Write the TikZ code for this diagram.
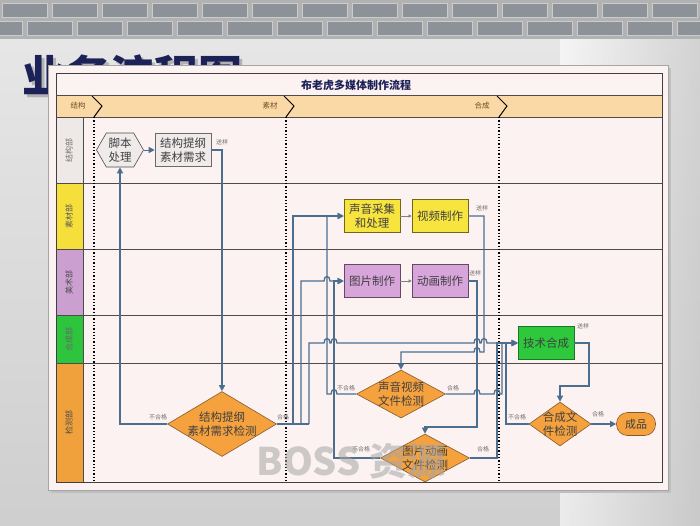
\documentclass[tikz,border=0pt]{standalone}
\usepackage{fontspec}
\newfontfamily\cjk{Noto Sans CJK SC}
\usetikzlibrary{arrows.meta,positioning,shapes.geometric,shapes.symbols}
\definecolor{lineblue}{HTML}{4D6F8F}
\definecolor{navy}{HTML}{1C2158}
\definecolor{panelfill}{HTML}{FCF2F1}
\definecolor{phasefill}{HTML}{FAD9A6}
\definecolor{hdrgray}{HTML}{EEE8E6}
\definecolor{laneyel}{HTML}{F6DF3A}
\definecolor{lanepur}{HTML}{CC9FD1}
\definecolor{lanegrn}{HTML}{2EC53E}
\definecolor{laneora}{HTML}{F1A13B}
\definecolor{boxgray}{HTML}{EFEBEA}
\definecolor{boxyel}{HTML}{F7E43F}
\definecolor{boxpur}{HTML}{D7A5DA}
\definecolor{boxgrn}{HTML}{2DC83B}
\definecolor{dia}{HTML}{F4A13E}
\definecolor{brick}{HTML}{8C9297}
\definecolor{mortar}{HTML}{C9CDD0}

\begin{document}
\begin{tikzpicture}[x=1pt,y=-1pt,font=\cjk,
  procbox/.style={draw=#1!45!black,fill=#1,line width=0.6pt,minimum width=56,minimum height=33,
    inner sep=1,align=center,text=black!75,font=\cjk\fontsize{11.5}{14}\selectfont},
  check/.style={diamond,draw=brown!70!black,fill=dia,line width=0.6pt,inner sep=-10,align=center,
    text=black!75,font=\cjk\fontsize{11.5}{14}\selectfont},
  flow/.style={draw=lineblue,line width=1.3pt,-{Triangle[length=6pt,width=6pt]}},
  link/.style={draw=lineblue,line width=1.3pt},
  thinflow/.style={draw=gray,line width=0.5pt,-{Triangle[length=3pt,width=3pt]}},
  note/.style={font=\cjk\fontsize{6}{7}\selectfont,text=black!55,inner sep=0},
  lanetext/.style={rotate=90,font=\cjk\fontsize{8}{9}\selectfont,inner sep=0},
  phasetext/.style={font=\cjk\fontsize{7.5}{9}\selectfont,text=brown!60!black,inner sep=0},
  hopr/.style 2 args={insert path={-- ({#1-3},#2) .. controls ({#1-3},{#2-6}) and ({#1+3},{#2-6}) .. ({#1+3},#2)}},
  hopl/.style 2 args={insert path={-- ({#1+3},#2) .. controls ({#1+3},{#2-6}) and ({#1-3},{#2-6}) .. ({#1-3},#2)}}]
\useasboundingbox (0,0) rectangle (700,525);
% slide background
\shade[top color=gray!18,bottom color=gray!38] (0,0) rectangle (700,525);
\shade[left color=white!0,right color=gray!45,opacity=0.6] (560,38) rectangle (700,525);
\fill[gray!60] (0,0) rectangle (700,39);
\foreach \x in {0,50,...,700}
  \draw[mortar,fill=brick] (\x+2,3) rectangle (\x+47,17);
\foreach \x in {-25,25,...,700}
  \draw[mortar,fill=brick] (\x+2,21) rectangle (\x+47,35);
\node[anchor=base west,text=gray!60,font=\cjk\bfseries\fontsize{44}{44}\selectfont,inner sep=0] (slidetitleshadow) at (25,95) {业务流程图};
\node[anchor=base west,text=navy,font=\cjk\bfseries\fontsize{44}{44}\selectfont,inner sep=0] (slidetitle) at (22,92) {业务流程图};
% sheet
\fill[gray!50] (51,68) rectangle (671,493);
\filldraw[draw=gray!70,fill=panelfill] (48,65) rectangle (668,490);
\fill[phasefill] (56,95) rectangle (662,117);
\foreach \ya/\yb/\col in {117/183/hdrgray,183/249/laneyel,249/315/lanepur,315/363/lanegrn,363/482/laneora}
  \fill[\col] (56,\ya) rectangle (83,\yb);
\draw[black!75,line width=0.8pt] (56,73) rectangle (662,482);
\foreach \yy in {95,117,183,249,315,363}
  \draw[black!70,line width=0.8pt] (56,\yy) -- (662,\yy);
\draw[black!70,line width=0.8pt] (83,117) -- (83,482);
\node[text=navy,font=\cjk\bfseries\fontsize{11}{12}\selectfont] (charttitle) at (356,85) {布老虎多媒体制作流程};
% lanes
\node[lanetext,text=black!55] (lanea) at (69,150) {结构部};
\node[lanetext,text=black!65] (laneb) at (69,216) {素材部};
\node[lanetext,text=black!70] (lanec) at (69,282) {美术部};
\node[lanetext,text=black!60] (laned) at (69,339) {合成部};
\node[lanetext,text=black!70] (lanee) at (69,422) {检测部};
% phases
\node[phasetext] (phasea) at (78,106) {结构};
\node[phasetext] (phaseb) at (270,106) {素材};
\node[phasetext] (phasec) at (482,106) {合成};
\foreach \px in {92,284,497} {
  \draw[black,line width=1pt] (\px,96) -- (\px+10,106) -- (\px+2,117);
  \draw[black,dotted,line width=1.3pt] (\px+2,117) -- (\px+2,482);
}
% steps
\node[signal,signal to=west and east,signal pointer angle=120,draw=gray!60!black,fill=boxgray,
  line width=0.6pt,minimum width=47,minimum height=34,inner sep=1,align=center,text=black!75,
  font=\cjk\fontsize{11.5}{14}\selectfont] (jb) at (120,150) {脚本\\处理};
\node[procbox=boxgray] (jg) at (183,150) {结构提纲\\素材需求};
\node[procbox=boxyel] (sy) at (372,216) {声音采集\\和处理};
\node[procbox=boxyel] (sp) at (440,216) {视频制作};
\node[procbox=boxpur] (tp) at (372,281) {图片制作};
\node[procbox=boxpur] (dh) at (440,281) {动画制作};
\node[procbox=boxgrn,draw=boxgrn!60!black] (js) at (546,343) {技术合成};
\node[check,minimum width=109,minimum height=65] (chk1) at (222,424) {结构提纲\\素材需求检测};
\node[check,minimum width=89,minimum height=48] (chk2) at (401,394) {声音视频\\文件检测};
\node[check,minimum width=89,minimum height=48] (chk3) at (425,458) {图片动画\\文件检测};
\node[check,minimum width=62,minimum height=44] (chk4) at (560,424) {合成文\\件检测};
\node[draw=brown!70!black,fill=dia,line width=0.6pt,rounded corners=11,minimum width=39,
  minimum height=23,inner sep=1,text=black!75,font=\cjk\fontsize{11}{13}\selectfont] (cp) at (636,424) {成品};
% small texts
\node[note] (sja) at (222,142) {送样};
\node[note] (sjb) at (482,208) {送样};
\node[note] (sjc) at (475,273) {送样};
\node[note] (sjd) at (583,326) {送样};
\node[note] (nga) at (158,417) {不合格};
\node[note] (oka) at (283,417) {合格};
\node[note] (ngb) at (346,388) {不合格};
\node[note] (okb) at (453,388) {合格};
\node[note] (ngc) at (361,449) {不合格};
\node[note] (okc) at (483,449) {合格};
\node[note] (ngd) at (517,417) {不合格};
\node[note] (okd) at (598,414) {合格};
% connectors
\coordinate (j1a) at (293,424);
\coordinate (j1b) at (301,424);
\coordinate (j1c) at (309,424);
\draw[flow,line width=1pt] (jb.east) -- (jg.west);
\draw[flow] (jg.east) -| (chk1.north);
\draw[flow] (chk1.west) -| (jb.south);
\draw[link] (chk1.east) -- (j1c);
\draw[flow] (j1a) |- (sy.west);
\draw[flow] (j1b) -- (301,281) [hopr={327}{281}] -- (tp.west);
\draw[flow] (j1c) -- (309,343) [hopr={327}{343}] [hopr={334}{343}] [hopr={477}{343}] [hopr={484}{343}] -- (js.west);
\draw[thinflow] (sy.east) -- (sp.west);
\draw[thinflow] (tp.east) -- (dh.west);
\draw[flow] (sp.east) -- (484,216) -- (484,352) [hopl={477}{352}] -| (chk2.north);
\draw[flow] (dh.east) -- (477,281) -- (477,427) -| (chk3.north);
\draw[flow] (chk2.west) [hopl={334}{394}] -- (327,394) |- (sy.west);
\draw[flow] (chk3.west) -- (334,458) |- (tp.west);
\draw[flow] (chk2.east) [hopr={477}{394}] [hopr={497}{394}] -- (502,394) |- (js.west);
\draw[flow] (chk3.east) -- (497,458) |- (js.west);
\draw[flow] (js.east) -- (589,343) -- (589,386) -| (chk4.north);
\draw[flow] (chk4.west) -- (506,424) |- (js.west);
\draw[flow] (chk4.east) -- (cp.west);
% watermark
\node[text=gray!70,opacity=0.55,font=\cjk\bfseries\fontsize{38}{38}\selectfont] (mark) at (351,461) {BOSS 资源};
\end{tikzpicture}
\end{document}
